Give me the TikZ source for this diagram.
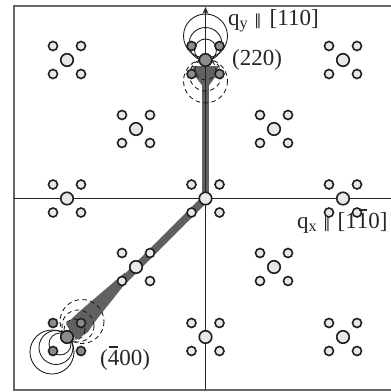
\documentclass[tikz,border=0pt]{standalone}
\usepackage{fontspec}
\setmainfont{Liberation Serif}
\newfontfamily\symfont{DejaVu Sans}
\usetikzlibrary{arrows.meta}
\tikzset{
  x=1pt,y=-1pt,
  mainpeak/.style={circle,draw=black!88,line width=1.6pt,fill=black!9,minimum size=12.5pt,inner sep=0pt},
  satpeak/.style={circle,draw=black!88,line width=1.6pt,fill=black!9,minimum size=9pt,inner sep=0pt},
  activemain/.style={mainpeak,fill=black!45},
  activesat/.style={satpeak,fill=black!45},
  axisline/.style={draw=black!85,line width=0.8pt},
  framebox/.style={draw=black!60,line width=1.3pt},
  barshape/.style={draw=black!62},
  wedgeshape/.style={fill=black!62},
  solidring/.style={draw=black!90,line width=0.85pt},
  dashring/.style={draw=black!90,line width=0.85pt,dash pattern=on 4.5pt off 3.5pt},
  lbl/.style={font=\fontsize{23}{25}\selectfont,inner sep=0pt,anchor=base west,text=black!85},
}
\newcommand{\qgroup}[5]{% name, x, y, main style, sat style
  \node[#4] (#1) at (#2,#3) {};
  \node[#5] (#1a) at (#2-14,#3-14) {};
  \node[#5] (#1b) at (#2+14,#3-14) {};
  \node[#5] (#1c) at (#2-14,#3+14) {};
  \node[#5] (#1d) at (#2+14,#3+14) {};
}
\newcommand{\bardigit}[1]{\rlap{\hspace{0.07em}\raisebox{0.76em}{\rule{0.36em}{0.05em}}}#1}
\newcommand{\parbar}{{\symfont\fontsize{15}{15}\selectfont ∥}}
\begin{document}
\begin{tikzpicture}
\useasboundingbox (0,0) rectangle (391,392);
\fill[white] (0,0) rectangle (391,392);
\coordinate (tl) at (14,6);
\coordinate (tr) at (391,6);
\coordinate (bl) at (14,390);
\coordinate (br) at (391,390);
\coordinate (axL) at (14,198.5);
\coordinate (axR) at (391,198.5);
\coordinate (axT) at (205.5,7);
\coordinate (axB) at (205.5,390);
\coordinate (g) at (205.5,60);
\coordinate (h) at (67,337);
\coordinate (o) at (205.5,198.5);
% wedges and bars
\fill[wedgeshape] (192,66) -- (219,66) -- (216,76) -- (208.5,86) -- (202.5,86) -- (195,76) -- cycle;
\fill[wedgeshape] (66,324) -- (81.6,309.6) -- (125,272.5) -- (130,277.5) -- (94.4,322.4) -- (88,332) -- (76,340) -- cycle;
\draw[barshape,line width=6.5pt] (o) -- (g);
\draw[barshape,line width=7.5pt] (o) -- (h);
% axes
\draw[framebox] (tr) -- (tl) -- (bl) -- (br);
\draw[axisline] (axL) -- (axR);
\draw[axisline,-{Stealth[length=7pt,width=6pt]}] (axB) -- (axT);
% rings at (220)
\draw[solidring] (205.5,36) circle (22);
\draw[solidring] (205.5,44) circle (16.5);
\draw[solidring] (205.5,50) circle (11);
\draw[dashring] (205.5,81) circle (22);
\draw[dashring] (205.5,75) circle (16);
\draw[dashring] (205.5,69.5) circle (10.5);
% rings at (-400)
\draw[solidring] (52,352) circle (22);
\draw[solidring] (56,347.5) circle (17);
\draw[solidring] (60,344) circle (11);
\draw[dashring] (82,321.5) circle (22);
\draw[dashring] (78,326) circle (16);
\draw[dashring] (74.5,329.5) circle (10.5);
% peaks
\qgroup{A}{67}{60}{mainpeak}{satpeak}
\qgroup{B}{205.5}{60}{activemain}{activesat}
\qgroup{C}{343}{60}{mainpeak}{satpeak}
\qgroup{D}{136}{129}{mainpeak}{satpeak}
\qgroup{E}{274}{129}{mainpeak}{satpeak}
\qgroup{F}{67}{198.5}{mainpeak}{satpeak}
\qgroup{G}{205.5}{198.5}{mainpeak}{satpeak}
\qgroup{H}{343}{198.5}{mainpeak}{satpeak}
\qgroup{I}{136}{267}{mainpeak}{satpeak}
\qgroup{J}{274}{267}{mainpeak}{satpeak}
\qgroup{K}{67}{337}{activemain}{activesat}
\qgroup{L}{205.5}{337}{mainpeak}{satpeak}
\qgroup{M}{343}{337}{mainpeak}{satpeak}
% labels
\node[lbl] (qy) at (228,25) {q\textsubscript{y}\hspace{6pt}\parbar\hspace{8pt}[110]};
\node[lbl] (r220) at (232,65.5) {(220)};
\node[lbl] (qx) at (297,228) {q\textsubscript{x}\hspace{6pt}\parbar\hspace{7pt}[1\bardigit{1}0]};
\node[lbl] (r400) at (100,365) {(\bardigit{4}00)};
\end{tikzpicture}
\end{document}
